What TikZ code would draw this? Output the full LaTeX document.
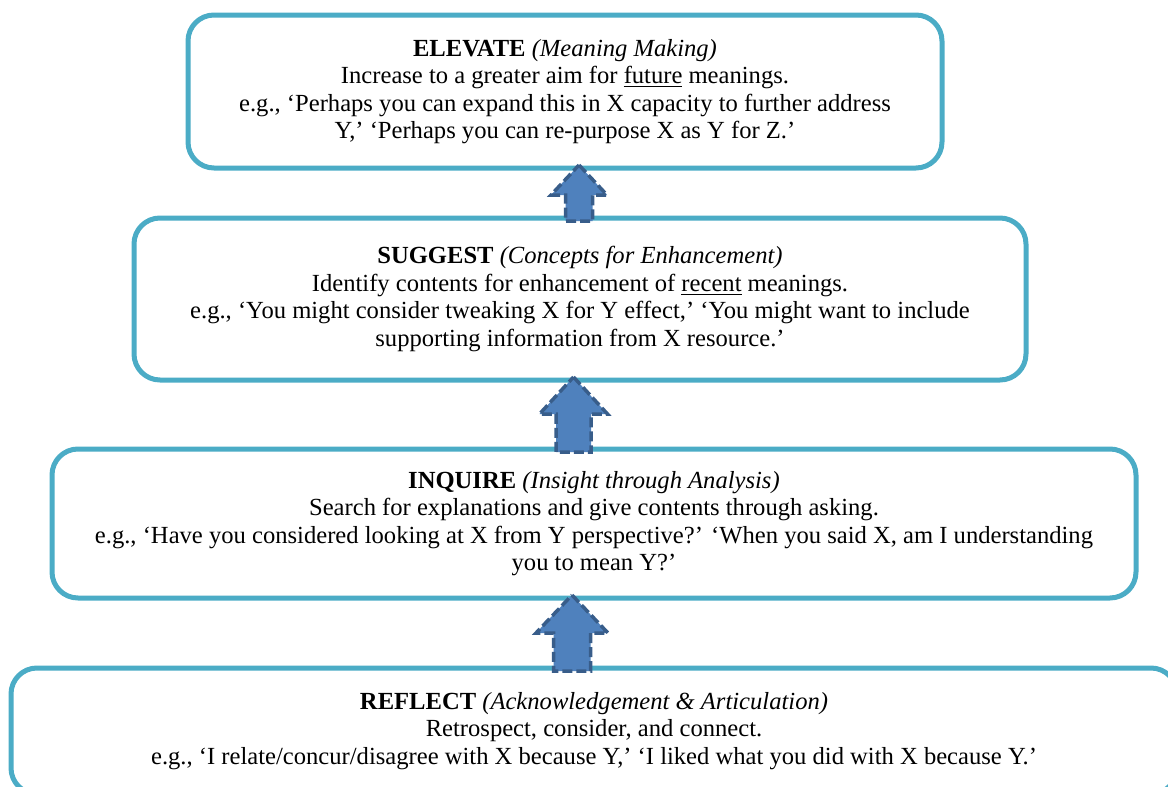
\documentclass[tikz,border=0pt]{standalone}
\usepackage{fontspec}
\setmainfont{Liberation Serif}
\usepackage{tikz}
\usetikzlibrary{calc, positioning}

\definecolor{framecol}{HTML}{4BACC6}
\definecolor{arrowfill}{HTML}{4F81BD}
\definecolor{arrowline}{HTML}{385D8A}

\tikzset{
  stagebox/.style={draw=framecol, line width=2.5pt, rounded corners=13pt,
    fill=white, align=center, inner sep=0pt, outer sep=0pt,
    font=\fontsize{12.3}{13.75}\selectfont},
  blockarrow/.style={fill=arrowfill, draw=arrowline, line width=1.75pt,
    dash pattern=on 5pt off 2pt, line join=miter}
}

\begin{document}
\begin{tikzpicture}[x=0.5pt, y=-0.5pt]
\useasboundingbox (0,0) rectangle (1168,787);
\clip (0,0) rectangle (1168,787);

\node[stagebox, minimum width=377pt, minimum height=76.5pt] (elevate) at (565,91.5)
  {\textbf{ELEVATE} \textit{(Meaning Making)}\\
   Increase to a greater aim for \underline{future} meanings.\\
   e.g., ‘Perhaps you can expand this in X capacity to further address\\
   Y,’ ‘Perhaps you can re-purpose X as Y for Z.’};

\node[stagebox, minimum width=446pt, minimum height=81pt] (suggest) at (580,299)
  {\textbf{SUGGEST} \textit{(Concepts for Enhancement)}\\
   Identify contents for enhancement of \underline{recent} meanings.\\
   e.g., ‘You might consider tweaking X for Y effect,’ ‘You might want to include\\
   supporting information from X resource.’};

\node[stagebox, minimum width=542pt, minimum height=74.5pt] (inquire) at (594,523.5)
  {\textbf{INQUIRE} \textit{(Insight through Analysis)}\\
   Search for explanations and give contents through asking.\\
   e.g., ‘Have you considered looking at X from Y perspective?’ ‘When you said X, am I understanding\\
   you to mean Y?’};

\node[stagebox, minimum width=583pt, minimum height=63pt] (reflect) at (594,731)
  {\textbf{REFLECT} \textit{(Acknowledgement \& Articulation)}\\
   Retrospect, consider, and connect.\\
   e.g., ‘I relate/concur/disagree with X because Y,’ ‘I liked what you did with X because Y.’};

% block arrows between the stages
\foreach \upper/\lower/\cx/\hh/\hs/\hl in {elevate/suggest/579/28/13.5/27,
  suggest/inquire/573.5/34/17.5/34, inquire/reflect/572/36/18.5/35}
{
  \coordinate (tip) at (\cx,0 |- \upper.south);
  \coordinate (base) at (\cx,0 |- \lower.north);
  \draw[blockarrow] ($(tip)+(0,-3)$) -- ($(tip)+(\hh,\hl)$) -- ($(tip)+(\hs,\hl)$)
    -- ($(base)+(\hs,3)$) -- ($(base)+(-\hs,3)$) -- ($(tip)+(-\hs,\hl)$)
    -- ($(tip)+(-\hh,\hl)$) -- cycle;
}
\end{tikzpicture}
\end{document}
